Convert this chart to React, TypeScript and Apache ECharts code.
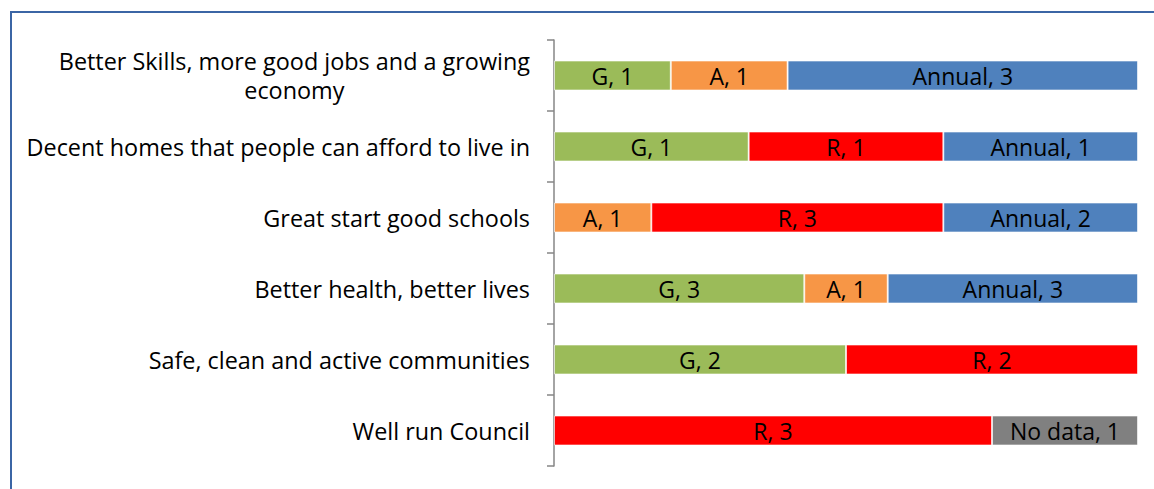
import React, { useEffect, useRef } from "react";
import * as echarts from "echarts";

const categories = [
  "Better Skills, more good jobs and a growing\neconomy",
  "Decent homes that people can afford to live in",
  "Great start good schools",
  "Better health, better lives",
  "Safe, clean and active communities",
  "Well run Council",
];

const seriesNames = ["G", "A", "R", "Annual", "No data"];
const gCounts = [1, 1, 0, 3, 2, 0];
const aCounts = [1, 0, 1, 1, 0, 0];
const rCounts = [0, 1, 3, 0, 2, 3];
const annualCounts = [3, 1, 2, 3, 0, 0];
const noDataCounts = [0, 0, 0, 0, 0, 1];
const seriesColors = ["#9BBB59", "#F79646", "#FF0000", "#4F81BD", "#808080"];

const FONT = "'Open Sans', sans-serif";

export default function App() {
  const ref = useRef<HTMLDivElement>(null);
  useEffect(() => {
    if (!ref.current) return;
    const chart = echarts.init(ref.current, null, { renderer: "svg" });
    const all = [gCounts, aCounts, rCounts, annualCounts, noDataCounts];
    const totals = categories.map((_, i) => all.reduce((s, arr) => s + arr[i], 0));
    const series = all.map((counts, si) => ({
      name: seriesNames[si],
      type: "bar",
      stack: "total",
      barWidth: 30,
      itemStyle: { color: seriesColors[si], borderColor: "rgba(255,255,255,0.6)", borderWidth: 1 },
      label: {
        show: true,
        position: "inside",
        color: "#000",
        fontFamily: FONT,
        fontSize: 23,
        formatter: (p: any) => `${seriesNames[si]}, ${counts[p.dataIndex]}`,
      },
      data: counts.map((c, i) => (c > 0 ? (c / totals[i]) * 100 : null)),
    }));
    chart.setOption({
      animation: false,
      grid: { left: 554, right: 16, top: 40, bottom: 23 },
      xAxis: { type: "value", min: 0, max: 100, show: false },
      yAxis: {
        type: "category",
        inverse: true,
        data: categories,
        axisLine: { show: true, lineStyle: { color: "#868686", width: 1.5 } },
        axisTick: { show: true, length: 7, lineStyle: { color: "#868686", width: 1.5 } },
        axisLabel: {
          margin: 24,
          formatter: (v: string) => v.split("\n").map((l) => `{c|${l}}`).join("\n"),
          rich: {
            c: { align: "center", color: "#000", fontFamily: FONT, fontSize: 23.4, lineHeight: 29 },
          },
        },
      },
      graphic: [
        { type: "line", shape: { x1: 10, y1: 12, x2: 1154, y2: 12 }, style: { stroke: "#3B65A5", lineWidth: 2 } },
        { type: "line", shape: { x1: 11, y1: 12, x2: 11, y2: 489 }, style: { stroke: "#3B65A5", lineWidth: 2 } },
      ],
      series,
    });
    return () => chart.dispose();
  }, []);
  return (
    <div
      ref={ref}
      style={{ position: "fixed", left: 0, top: 0, width: 1154, height: 489, background: "#fff" }}
    />
  );
}
